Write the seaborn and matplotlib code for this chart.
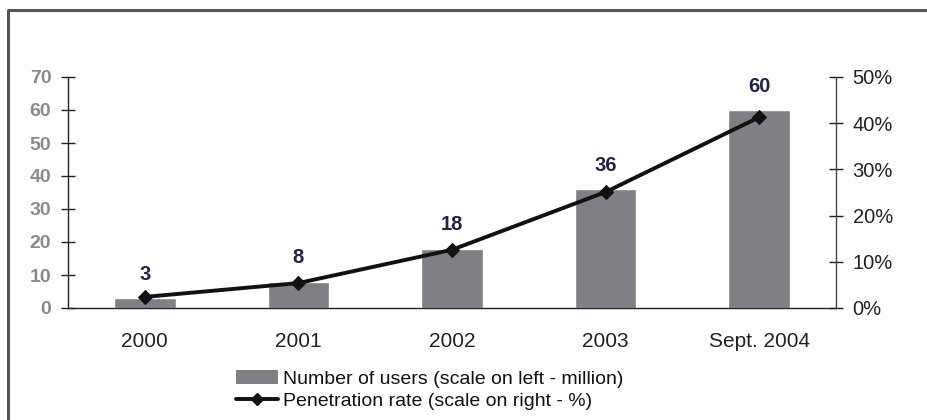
import numpy as np
import matplotlib
matplotlib.use("Agg")
import matplotlib.pyplot as plt
from matplotlib.patches import Patch
from matplotlib.lines import Line2D
import seaborn as sns

years = ["2000", "2001", "2002", "2003", "Sept. 2004"]
users_million = [3, 8, 18, 36, 60]
penetration_pct = [2.4, 5.4, 12.6, 25.1, 41.3]

sns.set_theme(style="white")
plt.rcParams["font.family"] = ["Liberation Sans", "DejaVu Sans"]

bar_color = "#808084"
label_color = "#23234a"

fig = plt.figure(figsize=(9.28, 4.2), dpi=100)
ax = fig.add_axes([68 / 928, 1 - 308 / 420, 768 / 928, 231 / 420])

sns.barplot(x=years, y=users_million, color=bar_color, width=0.4,
            saturation=1, ax=ax, zorder=2)
ax.set_xlim(-0.5, 4.5)
ax.set_ylim(0, 70)
ax.set_yticks(range(0, 71, 10))
ax.tick_params(axis="y", direction="inout", length=10, width=1, color="#222222",
               labelsize=14, labelcolor="#8a8a8a", pad=7)
for t in ax.get_yticklabels():
    t.set_fontweight("bold")
ax.set_xticks(range(len(years)))
ax.set_xticklabels(years)
ax.tick_params(axis="x", length=0, labelsize=15, labelcolor="#222222", pad=17)
ax.set_xticks(np.arange(0.5, len(years) - 1, 1.0), minor=True)
ax.tick_params(axis="x", which="minor", direction="inout", length=10, width=1,
               color="#222222")
for side in ["left", "bottom"]:
    ax.spines[side].set_color("#222222")
    ax.spines[side].set_linewidth(1)
ax.spines["top"].set_visible(False)
ax.spines["right"].set_visible(False)

for i, v in enumerate(users_million):
    ax.annotate(str(v), (i, v), xytext=(0, 17), textcoords="offset points",
                ha="center", va="center", fontsize=14.5, fontweight="bold",
                color=label_color)

ax2 = ax.twinx()
sns.lineplot(x=np.arange(len(years)), y=penetration_pct, color="#111111",
             linewidth=2.8, marker="D", markersize=7, markeredgecolor="#111111",
             ax=ax2, zorder=3)
ax2.set_ylim(0, 50)
ax2.set_yticks(range(0, 51, 10))
ax2.set_yticklabels([f"{v}%" for v in range(0, 51, 10)])
ax2.tick_params(axis="y", direction="inout", length=10, width=1, color="#222222",
                labelsize=14.5, labelcolor="#222222", pad=7)
ax2.spines["right"].set_color("#444444")
ax2.spines["right"].set_linewidth(1)
for side in ["top", "left", "bottom"]:
    ax2.spines[side].set_visible(False)
ax2.set_xlim(-0.5, 4.5)

handles = [
    Patch(facecolor=bar_color, edgecolor="none",
          label="Number of users (scale on left - million)"),
    Line2D([0], [0], color="#111111", linewidth=2.8, marker="D", markersize=6,
           label="Penetration rate (scale on right - %)"),
]
fig.legend(handles=handles, loc="upper left", bbox_to_anchor=(236 / 928, 1 - 370 / 420),
           frameon=False, fontsize=14, handlelength=2.15, handletextpad=0.25,
           labelspacing=0.25, borderpad=0, borderaxespad=0, labelcolor="#111111")

# outer frame on the left and top edges
fig.add_artist(Line2D([7.5 / 928, 7.5 / 928, 1.0], [0.0, 1 - 9.5 / 420, 1 - 9.5 / 420],
                      transform=fig.transFigure, color="#555555", linewidth=2.2))

fig.savefig("out.png", dpi=100)
